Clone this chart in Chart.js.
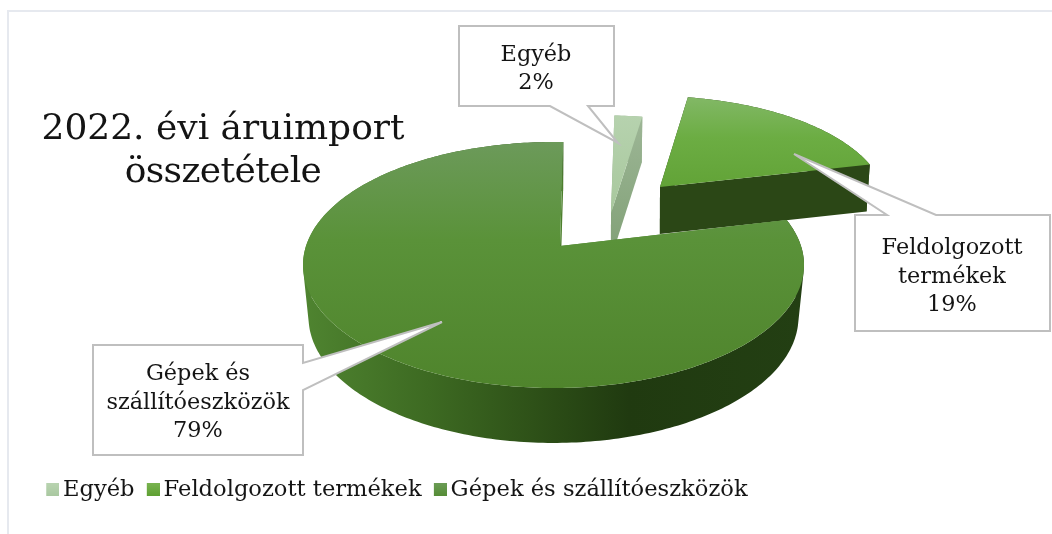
<!DOCTYPE html>
<html lang="hu">
<head>
<meta charset="utf-8">
<title>2022. évi áruimport összetétele</title>
<script src="https://cdn.jsdelivr.net/npm/chart.js@4"></script>
<style>
  html, body { margin: 0; padding: 0; background: #fff; overflow: hidden; }
  #frame { position: absolute; left: 7px; top: 10px; right: 0; bottom: 0; border-top: 2px solid #e6e9ef; border-left: 2px solid #e6e9ef; }
  #chart { position: absolute; left: 0; top: 0; }
</style>
</head>
<body>
<div id="frame"></div>
<canvas id="chart" width="1052" height="534"></canvas>
<script>
// data
var categories = ['Egyéb', 'Feldolgozott termékek', 'Gépek és szállítóeszközök']
var shares = [2, 19, 79]
var titleLines = ['2022. évi áruimport', 'összetétele']
var calloutLines = [['Egyéb'], ['Feldolgozott', 'termékek'], ['Gépek és', 'szállítóeszközök']]

var FONT = '"DejaVu Serif", serif'
var TEXT = '#141414'
var BORDER = '#bfbfbf'

// how each slice sits in the tilted view: top ellipse, where the pie centre lands, wall height
var views = [
    { cx: 603, cy: 231, rx: 262, ry: 115.6, ax: 611, ay: 213, depth: 46, shrink: 0.985, growY: 1 },
    { cx: 651, cy: 204, rx: 235, ry: 108, ax: 660, ay: 187, depth: 47, shrink: 0.985, growY: 1 },
    { cx: 553.5, cy: 265, rx: 250.5, ry: 123, ax: 560, ay: 246, depth: 52, shrink: 0.978, growY: 1.024 }
]

// callout boxes: box rectangle, tail base on the box and tail tip
var callouts = [
    { x: 459, y: 26, w: 155, h: 80, tail: [[588, 106], [618, 143], [550, 106]], side: 'bottom', textY: [61, 89], cx: 536 },
    { x: 855, y: 215, w: 195, h: 116, tail: [[887, 215], [794, 154], [936, 215]], side: 'top', textY: [254, 282.5, 310.5], cx: 952 },
    { x: 93, y: 345, w: 210, h: 110, tail: [[303, 363], [442, 322], [303, 390]], side: 'right', textY: [380, 409, 437], cx: 198 }
]

function vGrad(ctx, y0, y1, stops) {
    var g = ctx.createLinearGradient(0, y0, 0, y1)
    stops.forEach(function (s) { g.addColorStop(s[0], s[1]) })
    return g
}

function hGrad(ctx, x0, x1, stops) {
    var g = ctx.createLinearGradient(x0, 0, x1, 0)
    stops.forEach(function (s) { g.addColorStop(s[0], s[1]) })
    return g
}

// maps a pie angle to the ellipse, moving the centre off the ellipse middle like a perspective would
function project(v, angle, yShift, xScale, yScale) {
    var qx = (v.ax - v.cx) / v.rx
    var qy = (v.ay - v.cy) / v.ry
    var s = Math.hypot(qx, qy)
    var ex = qx / s
    var ey = qy / s
    var px = Math.cos(angle)
    var py = Math.sin(angle)
    var par = px * ex + py * ey
    var den = 1 + s * par
    var k = Math.sqrt(1 - s * s) / den
    var np = (par + s) / den
    var x = np * ex + (px - par * ex) * k
    var y = np * ey + (py - par * ey) * k
    return [v.cx + x * v.rx * xScale, v.cy + yShift + y * v.ry * yScale]
}

function apex(v, yShift, xScale, yScale) {
    return [v.cx + (v.ax - v.cx) * xScale, v.cy + yShift + (v.ay - v.cy) * yScale]
}

function arcPoints(v, a0, a1, yShift, xScale, yScale) {
    var pts = []
    var n = Math.max(8, Math.round((a1 - a0) * 60))
    for (var i = 0; i <= n; i++) {
        pts.push(project(v, a0 + (a1 - a0) * i / n, yShift, xScale, yScale))
    }
    return pts
}

function addPoly(ctx, pts) {
    pts.forEach(function (p, i) {
        if (i === 0) ctx.moveTo(p[0], p[1])
        else ctx.lineTo(p[0], p[1])
    })
    ctx.closePath()
}

function fillPoly(ctx, pts, fill) {
    ctx.beginPath()
    addPoly(ctx, pts)
    ctx.fillStyle = fill
    ctx.fill()
}

// all quads must turn the same way, otherwise nonzero fill leaves holes where they overlap
function sameTurn(pts) {
    var area = 0
    pts.forEach(function (p, i) {
        var n = pts[(i + 1) % pts.length]
        area += p[0] * n[1] - n[0] * p[1]
    })
    return area < 0 ? pts.slice().reverse() : pts
}

function sliceStyles(ctx) {
    var egyebSide = vGrad(ctx, 116, 240, [[0, '#9db696'], [1, '#84a37a']])
    return [
        {
            top: vGrad(ctx, 116, 213, [[0, '#b6d2ae'], [1, '#a8c89d']]),
            side: egyebSide,
            cut: egyebSide
        },
        {
            top: vGrad(ctx, 97, 187, [[0, '#82b866'], [0.45, '#6cad43'], [1, '#62a337']]),
            side: '#2b4716',
            cut: '#2b4716'
        },
        {
            top: vGrad(ctx, 142, 388, [[0, '#6c9a5a'], [0.4, '#5a9239'], [1, '#4f842c']]),
            side: hGrad(ctx, 303, 804, [[0, '#4f8430'], [0.25, '#3d6a22'], [0.5, '#2b4c16'], [0.65, '#203a10'], [1, '#233f13']]),
            cut: '#4d7f2e'
        }
    ]
}

function drawSlice(ctx, arc, v, style) {
    var a0 = arc.startAngle
    var a1 = arc.endAngle
    var topArc = arcPoints(v, a0, a1, 0, 1, 1)
    var lowArc = arcPoints(v, a0, a1, v.depth, v.shrink, v.growY)
    var topC = apex(v, 0, 1, 1)
    var lowC = apex(v, v.depth, v.shrink, v.growY)

    // wall as one path of small quads, so the silhouette at the sides stays straight
    ctx.beginPath()
    for (var i = 0; i < topArc.length - 1; i++) {
        addPoly(ctx, sameTurn([topArc[i], topArc[i + 1], lowArc[i + 1], lowArc[i]]))
    }
    ctx.fillStyle = style.side
    ctx.fill()

    // then the cut faces, the top face covers what is not seen
    fillPoly(ctx, [topC, topArc[0], lowArc[0], lowC], style.cut)
    fillPoly(ctx, [topC, topArc[topArc.length - 1], lowArc[lowArc.length - 1], lowC], style.cut)

    fillPoly(ctx, [topC].concat(topArc), style.top)
}

var pie3d = {
    id: 'pie3d',
    beforeDatasetsDraw: function (chart) {
        var ctx = chart.ctx
        var arcs = chart.getDatasetMeta(0).data
        var styles = sliceStyles(ctx)
        ctx.save()
        arcs.forEach(function (arc, i) {
            drawSlice(ctx, arc, views[i], styles[i])
        })
        ctx.restore()
        return false
    },
    afterDraw: function (chart) {
        var ctx = chart.ctx
        ctx.save()

        // title
        ctx.font = '36px ' + FONT
        ctx.fillStyle = TEXT
        ctx.textAlign = 'center'
        ctx.textBaseline = 'alphabetic'
        ctx.fillText(titleLines[0], 223, 139)
        ctx.letterSpacing = '-0.6px'
        ctx.fillText(titleLines[1], 223, 182)
        ctx.letterSpacing = '0px'

        // callouts
        callouts.forEach(function (c, i) {
            var x1 = c.x + c.w
            var y1 = c.y + c.h
            var t = c.tail
            ctx.beginPath()
            ctx.moveTo(c.x, c.y)
            if (c.side === 'top') { t.forEach(function (p) { ctx.lineTo(p[0], p[1]) }) }
            ctx.lineTo(x1, c.y)
            if (c.side === 'right') { t.forEach(function (p) { ctx.lineTo(p[0], p[1]) }) }
            ctx.lineTo(x1, y1)
            if (c.side === 'bottom') { t.forEach(function (p) { ctx.lineTo(p[0], p[1]) }) }
            ctx.lineTo(c.x, y1)
            ctx.closePath()
            ctx.fillStyle = '#fff'
            ctx.fill()
            ctx.strokeStyle = BORDER
            ctx.lineWidth = 2
            ctx.lineJoin = 'miter'
            ctx.stroke()

            var lines = calloutLines[i].concat([shares[i] + '%'])
            ctx.font = '22.4px ' + FONT
            ctx.fillStyle = TEXT
            lines.forEach(function (line, j) {
                ctx.fillText(line, c.cx, c.textY[j])
            })
        })
        ctx.restore()
    }
}

// legend swatches are small canvases, so the text can sit close to them
function swatch(stops) {
    var c = document.createElement('canvas')
    c.width = 15
    c.height = 13
    var g = c.getContext('2d')
    g.fillStyle = vGrad(g, 0, 13, stops)
    g.fillRect(2, 0, 13, 13)
    return c
}

var swatches = [
    swatch([[0, '#b9d4b1'], [1, '#a9c8a0']]),
    swatch([[0, '#79b350'], [1, '#5ea032']]),
    swatch([[0, '#6b9c56'], [1, '#558c35']])
]

new Chart(document.getElementById('chart'), {
    type: 'pie',
    data: {
        labels: categories,
        datasets: [{ data: shares, backgroundColor: ['#b6d2ae', '#6cad43', '#5a9239'] }]
    },
    options: {
        responsive: false,
        animation: false,
        rotation: 1,
        layout: { padding: { left: 34, bottom: 23 } },
        plugins: {
            title: { display: false },
            tooltip: { enabled: false },
            legend: {
                position: 'bottom',
                align: 'start',
                labels: {
                    usePointStyle: true,
                    pointStyleWidth: 0.01,
                    padding: 17.7,
                    color: TEXT,
                    font: { family: FONT, size: 22.6 },
                    generateLabels: function () {
                        return categories.map(function (name, i) {
                            return { text: name, pointStyle: swatches[i], fontColor: TEXT, index: i }
                        })
                    }
                }
            }
        }
    },
    plugins: [pie3d]
})
</script>
</body>
</html>
